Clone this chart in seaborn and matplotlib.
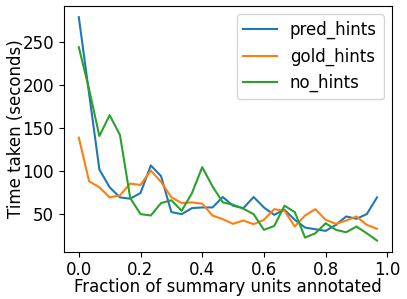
import numpy as np
import pandas as pd
import matplotlib
matplotlib.use("Agg")
import matplotlib.pyplot as plt
import seaborn as sns

# valores (30 pontos, fracao i/30)
fraction = np.arange(30) / 30

pred_hints = [279, 190, 101.6, 80.9, 69.1, 67.6, 74.2, 106.3, 93.8, 52,
              49.6, 56.6, 57.4, 57.4, 69.5, 59.4, 56.6, 69.5, 57.4, 48.8,
              54.7, 43, 34, 32, 30.1, 37.1, 46.9, 44.2, 49.6, 69.1]
gold_hints = [138.7, 87.9, 80.9, 69.1, 71.5, 85.2, 83.6, 100.4, 87.1, 69.3,
              62.5, 63.3, 61.8, 48, 43.7, 38.3, 42.2, 37.9, 43, 55.4,
              53.5, 35.2, 48, 55.4, 43, 38.3, 42.2, 46.9, 37.1, 32.5]
no_hints = [244, 195, 140.6, 164.9, 141.8, 68.3, 49.6, 48, 62.5, 65.8,
            53.5, 74, 104.3, 82, 63.3, 60.6, 55.9, 49.6, 31.3, 35.8,
            59.4, 52, 22.3, 27.3, 39, 31.3, 28.5, 35.2, 27.3, 18.8]

series = {'pred_hints': pred_hints, 'gold_hints': gold_hints, 'no_hints': no_hints}
df = pd.concat([pd.DataFrame({'fraction': fraction, 'time': v, 'setting': k})
                for k, v in series.items()], ignore_index=True)

plt.rcParams['font.size'] = 12

fig = plt.figure(figsize=(4.07, 2.99), dpi=100)
ax = fig.add_axes([0.157, 0.158, 0.806, 0.822])

sns.lineplot(data=df, x='fraction', y='time', hue='setting', palette='tab10',
             linewidth=1.5, ax=ax)

ax.set_xlabel('Fraction of summary units annotated', labelpad=-1)
ax.set_ylabel('Time taken (seconds)', labelpad=-2)
ax.set_xticks([0.0, 0.2, 0.4, 0.6, 0.8, 1.0])
ax.set_yticks([50, 100, 150, 200, 250])
ax.legend(title=None, loc='upper right')

fig.savefig('out.png', dpi=100)
